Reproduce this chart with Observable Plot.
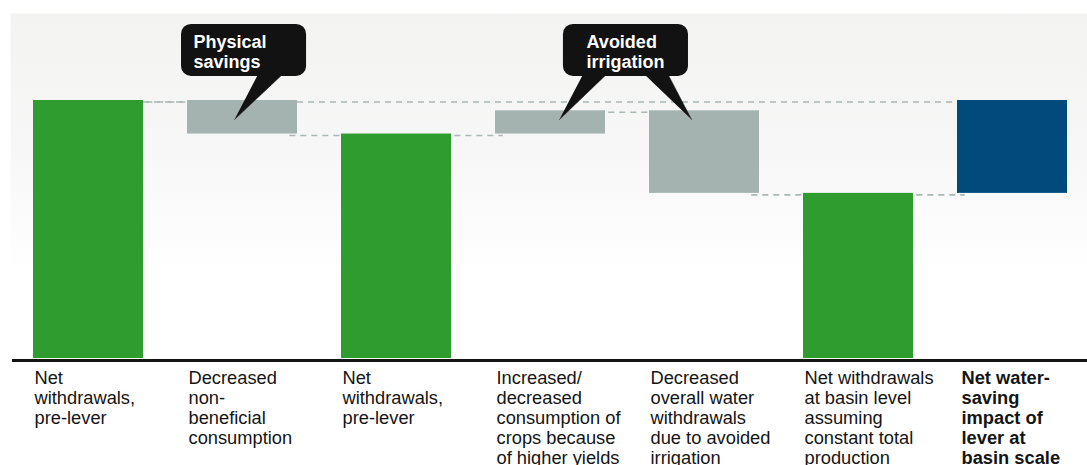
<!DOCTYPE html>
<html><head><meta charset="utf-8">
<script src="https://cdn.jsdelivr.net/npm/d3@7"></script>
<script src="https://cdn.jsdelivr.net/npm/@observablehq/plot@0.6"></script>
<style>body{margin:0;background:#fff;overflow:hidden} svg{display:block}</style>
</head><body><div id="chart"></div>
<script>
// ---- data ----
const categories = ["A","B","C","D","E","F","G"];
const values = [100, -13, 87, 9, -32, 64, 36];
const kinds = ["total","delta","total","delta","delta","total","net"];
const labels = [
  "Net\nwithdrawals,\npre-lever",
  "Decreased\nnon-\nbeneficial\nconsumption",
  "Net\nwithdrawals,\npre-lever",
  "Increased/\ndecreased\nconsumption of\ncrops because\nof higher yields",
  "Decreased\noverall water\nwithdrawals\ndue to avoided\nirrigation",
  "Net withdrawals\nat basin level\nassuming\nconstant total\nproduction",
  "Net water-\nsaving\nimpact of\nlever at\nbasin scale"
];
const boldIndex = [6];
const calloutLabels = ["Physical\nsavings", "Avoided\nirrigation"];
// callout boxes (annotation positions in data units)
const calloutBoxes = [
  {x1: 0.604, x2: 1.416, y1: 109.3, y2: 129.5, tx: 0.682, ty: 125.6},
  {x1: 3.084, x2: 3.896, y1: 109.3, y2: 129.5, tx: 3.234, ty: 125.6}
];
const calloutTails = [
  {id: "t1", pts: [[1.104, 110.5], [1.266, 110.5], [0.948, 92.6]]},
  {id: "t2", pts: [[3.214, 110.5], [3.370, 110.5], [3.058, 92.6]]},
  {id: "t3", pts: [[3.604, 110.5], [3.760, 110.5], [3.916, 92.6]]}
];

// ---- derived ----
let running = 0;
const bars = values.map((v, i) => {
  let y1, y2;
  if (kinds[i] === "total") { y1 = 0; y2 = v; running = v; }
  else if (kinds[i] === "delta") { y1 = running; y2 = running + v; running = y2; }
  else { y1 = running; y2 = running + v; }
  return {i, cat: categories[i], kind: kinds[i], y1, y2, end: kinds[i] === "net" ? y1 : y2, label: labels[i], bold: boldIndex.includes(i)};
});
const hw = 55 / 154;
const connectors = [];
for (let i = 0; i < bars.length - 1; i++) {
  connectors.push({x1: i + hw - 0.05, x2: i + 1 - hw + 0.05, y: bars[i].end});
}
connectors.push({x1: hw, x2: bars.length - 1 - hw, y: bars[0].y2});
const callouts = calloutBoxes.map((b, k) => ({...b, label: calloutLabels[k]}));
const tailPts = calloutTails.flatMap(t => t.pts.map(([x, y]) => ({id: t.id, x, y})));

const font = "Liberation Sans, Arial, Helvetica, sans-serif";

const defs = () => {
  const d = d3.create("svg:defs");
  const g = d.append("linearGradient").attr("id", "bggrad").attr("x1", 0).attr("y1", 0).attr("x2", 0).attr("y2", 1);
  g.append("stop").attr("offset", "0%").attr("stop-color", "#f3f3f2");
  g.append("stop").attr("offset", "40%").attr("stop-color", "#f7f7f7");
  g.append("stop").attr("offset", "75%").attr("stop-color", "#ffffff");
  return d.node();
};

const chart = Plot.plot({
  width: 1087,
  height: 465,
  marginLeft: 12,
  marginRight: 0,
  marginTop: 13,
  marginBottom: 107,
  style: {fontFamily: font, background: "#ffffff", overflow: "hidden"},
  x: {type: "linear", domain: [-0.5, 6.5], range: [11, 1089], axis: null},
  y: {domain: [0, 100], range: [358, 100], axis: null},
  color: {domain: ["total", "delta", "net"], range: ["#2f9c2f", "#a4b2b0", "#004a7c"]},
  marks: [
    defs,
    Plot.frame({fill: "url(#bggrad)", stroke: null, insetLeft: -2}),
    Plot.ruleY(connectors, {x1: "x1", x2: "x2", y: "y", dy: 1.5, stroke: "#a9b7b5", strokeWidth: 1.6, strokeDasharray: "6,5"}),
    Plot.rectY(bars, {x1: d => d.i - hw, x2: d => d.i + hw, y1: "y1", y2: "y2", fill: "kind"}),
    Plot.ruleY([0], {stroke: "#141414", strokeWidth: 3, dy: 2}),
    Plot.text(bars.filter(d => !d.bold), {x: d => d.i - hw, y: 0, text: "label", textAnchor: "start", lineAnchor: "top", dx: 1, dy: 11, fontSize: 18.3, lineHeight: 20/18.3, fill: "#151515"}),
    Plot.text(bars.filter(d => d.bold), {x: d => d.i - hw, y: 0, text: "label", textAnchor: "start", lineAnchor: "top", dx: 4, dy: 11, fontSize: 18.3, lineHeight: 20/18.3, fill: "#151515", fontWeight: "bold"}),
    Plot.line(tailPts, {x: "x", y: "y", z: "id", fill: "#121212", stroke: "#121212", strokeWidth: 0.5}),
    Plot.rect(callouts, {x1: "x1", x2: "x2", y1: "y1", y2: "y2", fill: "#121212", rx: 10}),
    Plot.text(callouts, {x: "tx", y: "ty", text: "label", textAnchor: "start", lineAnchor: "top", fill: "#ffffff", fontWeight: "bold", fontSize: 18, lineHeight: 19.5/18})
  ]
});
document.getElementById("chart").appendChild(chart);
</script>
</body></html>
